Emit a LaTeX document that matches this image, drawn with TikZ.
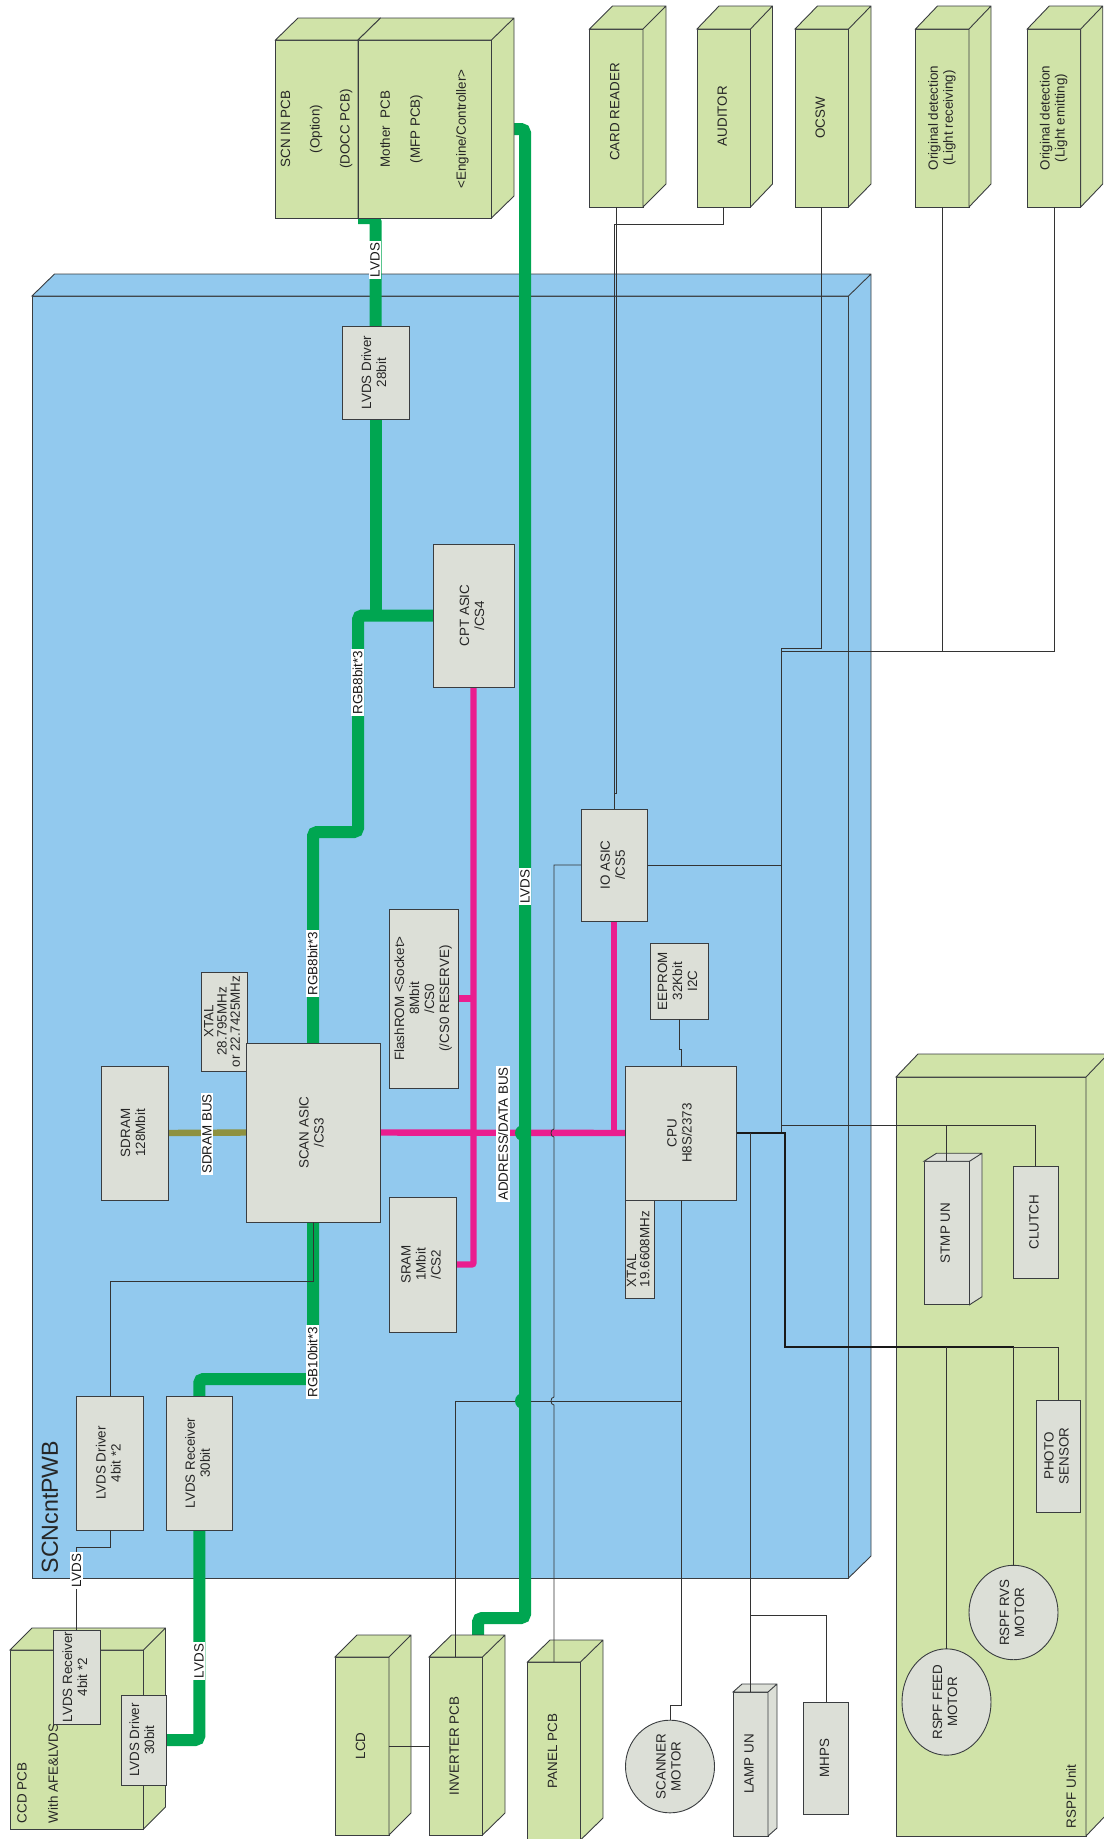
\documentclass[tikz,border=0pt]{standalone}
\usepackage{fontspec}
\setmainfont{Liberation Sans}
\usepackage{graphicx}
\usetikzlibrary{
	backgrounds,
	calc,
	shapes.geometric
}
\definecolor{boardblue}{HTML}{92C9EE}
\definecolor{pcbgreen}{HTML}{D0E3A8}
\definecolor{chipgrey}{HTML}{DCDFD7}
\definecolor{busgreen}{HTML}{00A651}
\definecolor{buspink}{HTML}{EA1D8F}
\definecolor{busolive}{HTML}{8E9140}
\definecolor{edgegrey}{HTML}{3A3D40}
\pgfdeclarelayer{boardlayer}
\pgfdeclarelayer{buslayer}
\pgfsetlayers{boardlayer,buslayer,main}
\tikzset{
	wh/.style 2 args={minimum width=#1pt,minimum height=#2pt},
	solid box/.style={draw=edgegrey,line width=0.9pt,inner sep=0pt,outer sep=0pt,text=black!85,font=\fontsize{13.4}{15}\selectfont},
	chip/.style={solid box,fill=chipgrey},
	motor/.style={chip,shape=ellipse},
	pcb/.style={solid box,fill=pcbgreen},
	board/.style={solid box,fill=boardblue},
	tight/.style={font=\fontsize{13.4}{13}\selectfont},
	plain text/.style={inner sep=0pt,outer sep=0pt,text=black!85,font=\fontsize{13.4}{15}\selectfont},
	buslabel/.style={fill=white,inner sep=1.6pt,text=black!90,font=\fontsize{13.4}{15}\selectfont},
	greenbus/.style={line width=12pt,draw=busgreen,rounded corners=4pt},
	pinkbus/.style={line width=6.4pt,draw=buspink,rounded corners=2pt},
	olivebus/.style={line width=6.4pt,draw=busolive},
	wire/.style={line width=0.8pt,draw=black!80},
	heavy wire/.style={line width=1.3pt,draw=black!90}
}
\newcommand{\rtxt}[2][c]{\rotatebox{90}{\begin{tabular}{@{}#1@{}}#2\end{tabular}}}
\newcommand{\rlbl}[1]{\rotatebox{90}{#1}}
\newcommand{\depthfaces}[4]{\draw[#1] (#2.north west) -- ++(#3,-#4) -- ($(#2.north east)+(#3,-#4)$) -- ($(#2.south east)+(#3,-#4)$) -- (#2.south east) -- (#2.north east) -- cycle (#2.north east) -- ++(#3,-#4);}
\begin{document}
\begin{tikzpicture}[x=1pt,y=-1pt]
	\useasboundingbox (0,0) rectangle (1103,1839);
	\begin{pgfonlayer}{boardlayer}
		\node[board,wh={816.5}{1282}] (scncnt) at (440.25,937) {};
		\depthfaces{board}{scncnt}{22.5}{22}
	\end{pgfonlayer}
	\node[plain text,font=\fontsize{23.2}{25}\selectfont,text=black!85] (scncntname) at (50,1507) {\rlbl{SCNcntPWB}};

	\node[pcb,wh={82.5}{178}] (scnin) at (316.75,129) {\rtxt{SCN IN PCB\\[14.5pt](Option)\\[15pt](DOCC PCB)}};
	\depthfaces{pcb}{scnin}{22.5}{22}
	\node[pcb,wh={133.5}{178}] (mother) at (424.75,129) {\rtxt{Mother\ \ PCB\\[15pt](MFP PCB)\\[31pt]<Engine/Controller>}};
	\depthfaces{pcb}{mother}{22.5}{22}
	\node[pcb,wh={53.5}{178}] (cardreader) at (616.25,118) {\rtxt{\hspace*{12pt}CARD READER}};
	\depthfaces{pcb}{cardreader}{23}{23}
	\node[pcb,wh={53.5}{178}] (auditor) at (723.75,118) {\rtxt{\hspace*{4pt}AUDITOR}};
	\depthfaces{pcb}{auditor}{22}{23}
	\node[pcb,wh={53.5}{178}] (ocsw) at (821.75,118) {\rtxt{OCSW}};
	\depthfaces{pcb}{ocsw}{22.5}{23}
	\node[pcb,wh={53.5}{178}] (origrecv) at (942.25,118) {\rtxt{Original detection\\(Light receiving)}};
	\depthfaces{pcb}{origrecv}{22}{23}
	\node[pcb,wh={53.5}{178}] (origemit) at (1054,118) {\rtxt{Original detection\\(Light emitting)}};
	\depthfaces{pcb}{origemit}{22}{23}

	\node[chip,wh={67}{93}] (lvdsdrvtop) at (375.5,372.5) {\rtxt{LVDS Driver\\28bit}};
	\node[chip,wh={81}{143}] (cptasic) at (473.5,615.5) {\rtxt{CPT ASIC\\/CS4}};
	\node[chip,wh={66.5}{112}] (ioasic) at (614.25,865) {\rtxt{IO ASIC\\/CS5}};
	\node[chip,wh={69}{179}] (flashrom) at (423.5,998.5) {\rtxt{FlashROM <Socket>\\8Mbit\\/CS0\\(/CS0 RESERVE)}};
	\node[chip,wh={58}{76}] (eeprom) at (679,981) {\rtxt{EEPROM\\32Kbit\\I2C}};
	\node[chip,tight,wh={46}{99}] (xtalscan) at (224,1021.5) {\rtxt{XTAL\\28.795MHz\\or 22.7425MHz}};
	\node[chip,wh={67}{134}] (sdram) at (134.5,1133) {\rtxt{SDRAM\\128Mbit}};
	\node[chip,wh={134}{179}] (scanasic) at (313,1132.5) {\rtxt{SCAN ASIC\\/CS3}};
	\node[chip,wh={111.5}{134}] (cpu) at (681,1133) {\rtxt{CPU\\H8S/2373}};
	\node[chip,tight,wh={29}{98}] (xtalcpu) at (640,1249) {\rtxt[l]{XTAL\\19.6608MHz}};
	\node[chip,wh={67}{135}] (sram) at (422.5,1264.5) {\rtxt{SRAM\\1Mbit\\/CS2}};
	\node[chip,wh={67}{134}] (lvdsdrvcis) at (110,1463) {\rtxt{LVDS Driver\\4bit *2}};
	\node[chip,wh={66.5}{134}] (lvdsrcvmain) at (199.25,1463) {\rtxt{LVDS Receiver\\30bit}};

	\node[pcb,wh={133.5}{179}] (ccdpcb) at (76.75,1739.5) {};
	\depthfaces{pcb}{ccdpcb}{22}{22}
	\node[plain text,anchor=south] (ccdname) at (22,1823) {\rlbl{CCD PCB}};
	\node[plain text,anchor=south] (ccdnote) at (53,1823) {\rlbl{With AFE\&LVDS}};
	\node[chip,wh={47}{94}] (lvdsrcvccd) at (76.5,1677) {\rtxt{LVDS Receiver\\4bit *2}};
	\node[chip,wh={45}{90}] (lvdsdrvccd) at (143.5,1740) {\rtxt{LVDS Driver\\30bit}};

	\node[pcb,wh={54}{178}] (lcd) at (362,1746) {\rtxt{LCD}};
	\depthfaces{pcb}{lcd}{22}{22}
	\node[pcb,wh={53.5}{178}] (inverter) at (455.75,1746) {\rtxt{INVERTER PCB}};
	\depthfaces{pcb}{inverter}{22.5}{22}
	\node[pcb,wh={53}{178}] (panel) at (554,1751) {\rtxt{PANEL PCB}};
	\depthfaces{pcb}{panel}{22.5}{22}
	\node[motor,wh={89}{89}] (scanmotor) at (670,1766.5) {\rtxt{SCANNER\\MOTOR}};
	\node[chip,wh={35}{144}] (lampun) at (750.5,1764) {\rtxt{LAMP UN}};
	\depthfaces{chip}{lampun}{9}{8}
	\node[chip,wh={45}{112}] (mhps) at (826,1758) {\rtxt{MHPS}};

	\node[pcb,wh={190}{759}] (rspfunit) at (991,1456.5) {};
	\depthfaces{pcb}{rspfunit}{22}{23}
	\node[plain text,anchor=south] (rspfname) at (1071,1828) {\rlbl{RSPF Unit}};
	\node[chip,wh={45.5}{143.5}] (stmpun) at (946.75,1233) {\rtxt{STMP UN}};
	\depthfaces{chip}{stmpun}{12.5}{8}
	\node[chip,wh={45}{112}] (clutch) at (1035.5,1222) {\rtxt{CLUTCH}};
	\node[chip,wh={44}{112}] (photo) at (1058,1456) {\rtxt{PHOTO\\SENSOR}};
	\node[motor,wh={89}{89}] (rvsmotor) at (1013.5,1612.5) {\rtxt{RSPF RVS\\MOTOR}};
	\node[motor,wh={89}{88}] (feedmotor) at (946.5,1702) {\rtxt{RSPF FEED\\MOTOR}};

	\coordinate (lvdsmother) at (514,129);
	\coordinate (lvdsinverter) at (478,1635);
	\coordinate (lvdsscn) at (358,218);
	\coordinate (rgbbendtop) at (358,832);
	\coordinate (rgbbendlow) at (199.25,1379);
	\coordinate (auditjog) at (614.25,224);
	\coordinate (cardjog) at (616.25,793);
	\coordinate (ctlbustop) at (781.5,648);
	\coordinate (ctlbus) at (781.5,651);
	\coordinate (stmpbus) at (781.5,1125);
	\coordinate (rspfbus) at (785,1347);
	\coordinate (lampjoin) at (750.5,1615);
	\coordinate (cpudown) at (681,1401);
	\coordinate (scanjog) at (681,1705);
	\coordinate (eepromjog) at (679,1049);
	\coordinate (drvjog) at (110,1281.5);
	\coordinate (ccdjog) at (76.5,1547);

	\begin{pgfonlayer}{buslayer}
		\draw[olivebus] (sdram.east) -- (scanasic.west);
		\draw[pinkbus] (scanasic.east) -- (cpu.west);
		\draw[pinkbus] (cptasic.south) -- (cptasic.south |- sram.east) -- (sram.east);
		\draw[pinkbus] (flashrom.east) -- (flashrom.east -| cptasic.south);
		\draw[pinkbus] (ioasic.south) -- (ioasic.south |- cpu.west);
		\draw[greenbus] (lvdsmother) -- ++(11,0) -- ++(0,1489) -| (lvdsinverter);
		\draw[greenbus] (lvdsscn) -| (lvdsdrvtop.north);
		\draw[greenbus] (lvdsdrvtop.south) -- (lvdsdrvtop.south |- cptasic.west);
		\draw[greenbus] (cptasic.west) -| (rgbbendtop) -| (scanasic.north);
		\draw[greenbus] (scanasic.south) |- (rgbbendlow) -- (lvdsrcvmain.north);
		\draw[greenbus] (lvdsrcvmain.south) |- (lvdsdrvccd.east);
	\end{pgfonlayer}

	\draw[wire] (cardreader.south) -- (cardjog) -| (ioasic.north);
	\draw[wire] (auditor.south) |- (auditjog) -- (ioasic.north);
	\draw[wire] (ocsw.south) |- (ctlbustop);
	\draw[wire] (origrecv.south) |- (ctlbus);
	\draw[wire] (origemit.south) |- (ctlbus);
	\draw[wire] (ctlbustop) -- (ctlbustop |- cpu.east);
	\draw[wire] (ioasic.east) -- (ioasic.east -| ctlbus);
	\draw[wire] (stmpbus) -| (clutch.north);
	\draw[wire] (stmpun.north |- stmpbus) -- (stmpun.north);
	\draw[heavy wire] (cpu.east) -| (rspfbus) -- (rvsmotor.north |- rspfbus);
	\draw[wire] (rvsmotor.north |- rspfbus) -| (photo.north);
	\draw[wire] (feedmotor.north |- rspfbus) -- (feedmotor.north);
	\draw[wire] (rvsmotor.north |- rspfbus) -- (rvsmotor.north);
	\draw[wire] (cpu.east -| lampun.north) -- (lampun.north);
	\draw[wire] (lampjoin) -| (mhps.north);
	\draw[wire] (cpu.south) -- (cpudown) -| (inverter.north);
	\draw[wire] (cpudown) -- (scanjog) -| (scanmotor.north);
	\draw[wire] (eeprom.south) -- (eepromjog) -| (cpu.north);
	\draw[wire] (scanasic.south) |- (drvjog) -- (lvdsdrvcis.north);
	\draw[wire] (lvdsdrvcis.south) |- (ccdjog) -- (lvdsrcvccd.north);
	\draw[wire] (lcd.east) -- (inverter.west);
	\draw[wire] (panel.north) -- (554,1405) .. controls (550,1405) and (550,1397) .. (554,1397) -- (554,1137) .. controls (550,1137) and (550,1129) .. (554,1129) |- (ioasic.west);

	\fill[busgreen] (523,1133) circle (8pt);
	\fill[busgreen] (523,1401) circle (8pt);

	\node[buslabel] (lvdslabelmain) at (525,886.5) {\rlbl{LVDS}};
	\node[buslabel] (lvdslabeltop) at (375,260) {\rlbl{LVDS}};
	\node[buslabel] (lvdslabelrcv) at (199,1661) {\rlbl{LVDS}};
	\node[buslabel] (lvdslabeldrv) at (76.5,1570.5) {\rlbl{LVDS}};
	\node[buslabel] (rgblabela) at (357.5,682.5) {\rlbl{RGB8bit*3}};
	\node[buslabel] (rgblabelb) at (312.5,963.5) {\rlbl{RGB8bit*3}};
	\node[buslabel] (rgblabelc) at (312.5,1362) {\rlbl{RGB10bit*3}};
	\node[buslabel] (sdramlabel) at (207,1134) {\rlbl{SDRAM BUS}};
	\node[buslabel] (addrlabel) at (503,1134) {\rlbl{ADDRESS/DATA BUS}};
\end{tikzpicture}
\end{document}
